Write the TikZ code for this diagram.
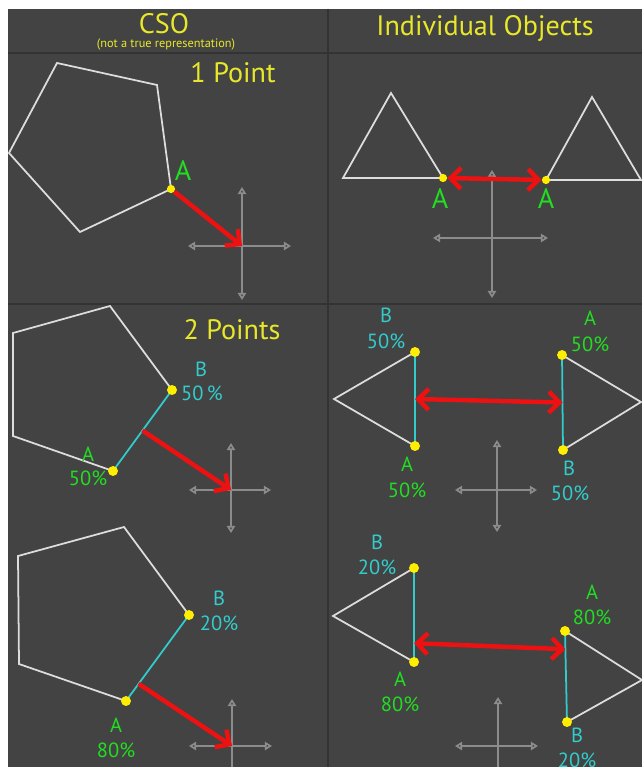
\documentclass[tikz,border=0pt]{standalone}
\usepackage{fontspec}
\setmainfont{PT Sans}
\usepackage{xcolor}
\usepackage{tikz}
\usetikzlibrary{arrows.meta, calc}

\definecolor{bgdark}{HTML}{434343}
\definecolor{titleyellow}{HTML}{E8E82A}
\definecolor{ptgreen}{HTML}{22DD22}
\definecolor{ptcyan}{HTML}{33CCCC}
\definecolor{pushred}{HTML}{EE1111}
\definecolor{dotyellow}{HTML}{FFEE00}
\definecolor{axisgray}{HTML}{8C8C8C}
\definecolor{outlinewhite}{HTML}{DDDDDD}

\begin{document}
\begin{tikzpicture}[
    x=0.03cm, y=-0.03cm,
    divider/.style={draw=black!80, line width=1.3pt},
    title/.style={text=titleyellow, font=\fontsize{24}{28}\selectfont, inner sep=0pt, anchor=base},
    note/.style={text=titleyellow, font=\fontsize{10.5}{11}\selectfont, inner sep=0pt, anchor=base},
    outline/.style={draw=outlinewhite, line width=1.5pt, line join=miter},
    support/.style={draw=ptcyan, line width=1.5pt},
    vert/.style={circle, fill=dotyellow, inner sep=0pt, minimum size=7pt},
    bigvert/.style={vert, minimum size=8.5pt},
    push/.style={draw=pushred, line width=3.8pt, -{Straight Barb[length=9pt, width=18pt]}},
    pushboth/.style={draw=pushred, line width=3.8pt, {Straight Barb[length=9pt, width=18pt]}-{Straight Barb[length=9pt, width=18pt]}},
    axis/.style={draw=axisgray, line width=1.4pt, {Triangle[open, length=6pt, width=7pt]}-{Triangle[open, length=6pt, width=7pt]}},
    labA/.style={text=ptgreen, font=\fontsize{17.5}{20}\selectfont, inner sep=0pt, anchor=base},
    labB/.style={labA, text=ptcyan},
    bigA/.style={labA, font=\fontsize{24}{28}\selectfont}
]
\useasboundingbox (0,0) rectangle (642,767);
\clip (0,0) rectangle (642,767);

% Background and grid
\fill[white] (0,0) rectangle (642,767);
\fill[bgdark] (8,9) rectangle (642,767);
\draw[divider] (8,53) -- (642,53);
\draw[divider] (8,304) -- (642,304);
\draw[divider] (328,9) -- (328,767);

% Headers
\node[title] (cso) at (164,34) {CSO};
\node[note] (csonote) at (166,48) {(not a true representation)};
\node[title] (indiv) at (485,36) {Individual Objects};
\node[title] (onept) at (233,83) {1 Point};
\node[title] (twopt) at (232,339) {2 Points};

% Vertices, row 1
\coordinate (p1a) at (57,63);
\coordinate (p1b) at (157,85);
\coordinate (a1) at (171,189);
\coordinate (p1d) at (80,232);
\coordinate (p1e) at (9,153);
\coordinate (t1a) at (343,178);
\coordinate (t1b) at (391,93);
\coordinate (ta1) at (443,178);
\coordinate (ua1) at (546,180);
\coordinate (u1b) at (592,97);
\coordinate (u1c) at (641,180);

% Vertices, row 2
\coordinate (p2a) at (13,333);
\coordinate (p2b) at (110,306);
\coordinate (b2) at (172,390);
\coordinate (a2) at (113,471);
\coordinate (p2e) at (13,436);
\coordinate (t2a) at (334,399);
\coordinate (tb2) at (415,352);
\coordinate (ta2) at (415,446);
\coordinate (ua2) at (562,355);
\coordinate (ub2) at (563,450);
\coordinate (u2c) at (641,402);

% Vertices, row 3
\coordinate (p3a) at (18,556);
\coordinate (p3b) at (124,527);
\coordinate (b3) at (189,615);
\coordinate (a3) at (126,701);
\coordinate (p3e) at (19,664);
\coordinate (t3a) at (333,616);
\coordinate (tb3) at (414,568);
\coordinate (ta3) at (414,662);
\coordinate (ua3) at (565,631);
\coordinate (ub3) at (567,722);
\coordinate (u3c) at (642,680);

% Shapes
\draw[outline] (p1a) -- (p1b) -- (a1) -- (p1d) -- (p1e) -- cycle;
\draw[outline] (t1a) -- (t1b) -- (ta1) -- cycle;
\draw[outline] (ua1) -- (u1b) -- (u1c) -- cycle;
\draw[outline] (b2) -- (p2b) -- (p2a) -- (p2e) -- (a2);
\draw[support] (a2) -- (b2);
\draw[outline] (tb2) -- (t2a) -- (ta2);
\draw[support] (ta2) -- (tb2);
\draw[outline] (ua2) -- (u2c) -- (ub2);
\draw[support] (ua2) -- (ub2);
\draw[outline] (b3) -- (p3b) -- (p3a) -- (p3e) -- (a3);
\draw[support] (a3) -- (b3);
\draw[outline] (tb3) -- (t3a) -- (ta3);
\draw[support] (ta3) -- (tb3);
\draw[outline] (ua3) -- (u3c) -- (ub3);
\draw[support] (ua3) -- (ub3);

% Axes (origin crosses)
\coordinate (c1) at (242,246);
\coordinate (c1l) at (188,246); \coordinate (c1r) at (291,246);
\coordinate (c1u) at (242,187); \coordinate (c1d) at (242,300);
\coordinate (c2) at (492,238);
\coordinate (c2l) at (433,238); \coordinate (c2r) at (548,238);
\coordinate (c2u) at (492,170); \coordinate (c2d) at (492,298);
\coordinate (c3) at (231,490);
\coordinate (c3l) at (189,490); \coordinate (c3r) at (271,490);
\coordinate (c3u) at (231,443); \coordinate (c3d) at (231,533);
\coordinate (c4) at (497,490);
\coordinate (c4l) at (455,490); \coordinate (c4r) at (537,490);
\coordinate (c4u) at (497,440); \coordinate (c4d) at (497,532);
\coordinate (c5) at (232,746);
\coordinate (c5l) at (189,746); \coordinate (c5r) at (272,746);
\coordinate (c5u) at (232,699); \coordinate (c5d) at (232,790);
\coordinate (c6) at (498,746);
\coordinate (c6l) at (455,746); \coordinate (c6r) at (538,746);
\coordinate (c6u) at (498,697); \coordinate (c6d) at (498,790);
\draw[axis] (c1l) -- (c1r); \draw[axis] (c1u) -- (c1d);
\draw[axis] (c2l) -- (c2r); \draw[axis] (c2u) -- (c2d);
\draw[axis] (c3l) -- (c3r); \draw[axis] (c3u) -- (c3d);
\draw[axis] (c4l) -- (c4r); \draw[axis] (c4u) -- (c4d);
\draw[axis] (c5l) -- (c5r); \draw[axis] (c5u) -- (c5d);
\draw[axis] (c6l) -- (c6r); \draw[axis] (c6u) -- (c6d);

% Support points
\node[vert] (dotA1) at (a1) {};
\node[vert] (dotTA1) at (ta1) {};
\node[vert] (dotUA1) at (ua1) {};
\node[bigvert] (dotA2) at (a2) {};
\node[bigvert] (dotB2) at (b2) {};
\node[bigvert] (dotTA2) at (ta2) {};
\node[bigvert] (dotTB2) at (tb2) {};
\node[bigvert] (dotUA2) at (ua2) {};
\node[bigvert] (dotUB2) at (ub2) {};
\node[bigvert] (dotA3) at (a3) {};
\node[bigvert] (dotB3) at (b3) {};
\node[bigvert] (dotTA3) at (ta3) {};
\node[bigvert] (dotTB3) at (tb3) {};
\node[bigvert] (dotUA3) at (ua3) {};
\node[bigvert] (dotUB3) at (ub3) {};

% Weighted points on the support edges
\coordinate (m2) at ($(a2)!0.5!(b2)$);
\coordinate (m2l) at ($(ta2)!0.5!(tb2)$);
\coordinate (m2r) at ($(ua2)!0.5!(ub2)$);
\coordinate (m3) at ($(a3)!0.2!(b3)$);
\coordinate (m3l) at ($(ta3)!0.2!(tb3)$);
\coordinate (m3r) at ($(ua3)!0.2!(ub3)$);

% Arrows
\draw[push] (dotA1) -- (c1);
\draw[pushboth] (dotTA1) -- (dotUA1);
\draw[push] (m2) -- (c3);
\draw[pushboth] (m2l) -- (m2r);
\draw[push] (m3) -- (c5);
\draw[pushboth] (m3l) -- (m3r);

% Labels
\node[bigA] (lA1) at (183,181) {A};
\node[bigA] (lTA1) at (440,209) {A};
\node[bigA] (lUA1) at (546,209) {A};

\node[labB] (lB2) at (201,376) {B};
\node[labB] (lB2w) at (202,400) {50\,\%};
\node[labA] (lA2) at (88,461) {A};
\node[labA] (lA2w) at (88,485) {50\%};
\node[labB] (lTB2) at (386,322) {B};
\node[labB] (lTB2w) at (386,348) {50\%};
\node[labA] (lTA2) at (407,471) {A};
\node[labA] (lTA2w) at (407,497) {50\%};
\node[labA] (lUA2) at (590,325) {A};
\node[labA] (lUA2w) at (590,351) {50\%};
\node[labB] (lUB2) at (569,475) {B};
\node[labB] (lUB2w) at (570,500) {50\%};

\node[labB] (lB3) at (219,605) {B};
\node[labB] (lB3w) at (219,630) {20\%};
\node[labA] (lA3) at (116,732) {A};
\node[labA] (lA3w) at (116,757) {80\%};
\node[labB] (lTB3) at (377,549) {B};
\node[labB] (lTB3w) at (377,574) {20\%};
\node[labA] (lTA3) at (400,686) {A};
\node[labA] (lTA3w) at (400,711) {80\%};
\node[labA] (lUA3) at (592,599) {A};
\node[labA] (lUA3w) at (592,624) {80\%};
\node[labB] (lUB3) at (577,742) {B};
\node[labB] (lUB3w) at (577,767) {20\%};

\end{tikzpicture}
\end{document}
